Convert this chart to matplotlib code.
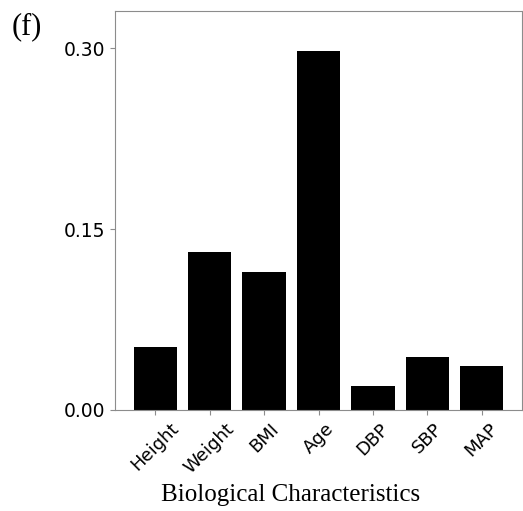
import matplotlib
matplotlib.use('Agg')
import matplotlib.pyplot as plt

# feature importance per biological characteristic
features = ['Height', 'Weight', 'BMI', 'Age', 'DBP', 'SBP', 'MAP']
importance = [0.052, 0.131, 0.1146, 0.2975, 0.0196, 0.0442, 0.0362]
y_ticks = [0.00, 0.15, 0.30]

fig = plt.figure(figsize=(5.23, 5.11), dpi=100)
ax = fig.add_axes([0.22, 0.198, 0.778, 0.78])

ax.bar(features, importance, width=0.8, color='black')
ax.set_ylim(0, 0.3307)
ax.set_yticks(y_ticks)
ax.set_yticklabels(['%.2f' % t for t in y_ticks], fontsize=13.5)
plt.setp(ax.get_xticklabels(), rotation=45, fontsize=13)

for side in ax.spines.values():
    side.set_color('#8c8c8c')
ax.tick_params(colors='#8c8c8c', labelcolor='black', length=3.5)

fig.text(0.556, 0.032, 'Biological Characteristics', ha='center', va='center',
         family='Liberation Serif', fontsize=18)
fig.text(0.023, 0.947, '(f)', ha='left', va='center',
         family='Liberation Serif', fontsize=22)

fig.savefig('out.png', dpi=100)
